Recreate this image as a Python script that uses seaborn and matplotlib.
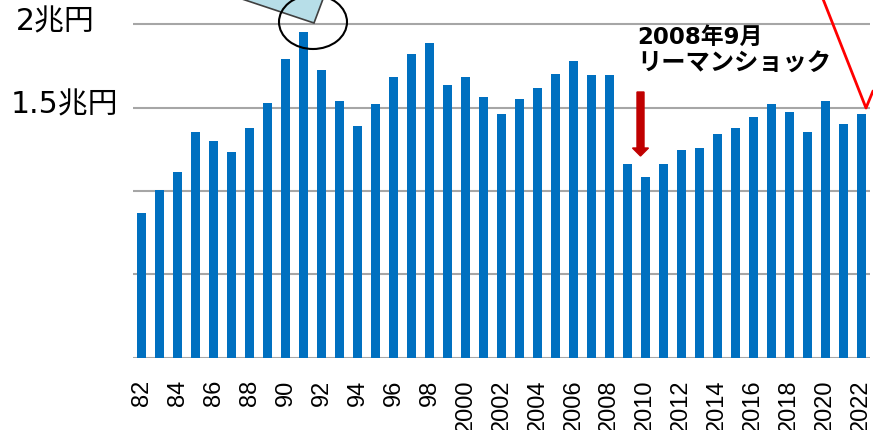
import numpy as np
import matplotlib
matplotlib.use("Agg")
import matplotlib.pyplot as plt
import matplotlib.patches as mpatches
from matplotlib.transforms import IdentityTransform
import pandas as pd
import seaborn as sns

# 年ごとの値（兆円）
years = list(range(1982, 2023))
values = [0.866, 1.006, 1.116, 1.356, 1.300, 1.234, 1.378, 1.528, 1.790, 1.954,
          1.726, 1.540, 1.388, 1.520, 1.682, 1.824, 1.890, 1.638, 1.682, 1.562,
          1.464, 1.552, 1.616, 1.704, 1.780, 1.694, 1.694, 1.160, 1.082, 1.160,
          1.246, 1.256, 1.344, 1.378, 1.444, 1.520, 1.474, 1.356, 1.540, 1.400,
          1.464]
tick_labels = [str(y)[2:] if y < 2000 else str(y) for y in years]
y_labels = ["2兆円", "1.5兆円"]
note = ["2008年9月", "リーマンショック"]

W, H = 873, 431


def main():
    sns.set_theme(style="white")
    plt.rcParams['font.family'] = ['Noto Sans CJK JP', 'DejaVu Sans']
    plt.rcParams['text.color'] = 'black'
    plt.rcParams['xtick.color'] = 'black'
    mixed = ['DejaVu Sans', 'Noto Sans CJK JP']

    df = pd.DataFrame({'year': [str(y) for y in years], 'value': values})

    fig = plt.figure(figsize=(W / 100, H / 100), dpi=100)
    ax = fig.add_axes([133 / W, (H - 358.7) / H, (870 - 133) / W, 358.7 / H])

    sns.barplot(data=df, x='year', y='value', color='#0070C0', width=0.5,
                saturation=1, linewidth=0, ax=ax)

    ax.set_xlim(-0.5, len(years) - 0.5)
    ax.set_ylim(0, 358.7 / 166.7)
    ax.set_yticks([0, 0.5, 1.0, 1.5, 2.0])
    ax.set_yticklabels([])
    ax.yaxis.grid(True, color='#A6A6A6', linewidth=1.5)
    ax.set_axisbelow(True)
    for s in ax.spines.values():
        s.set_visible(False)
    ax.set_xlabel('')
    ax.set_ylabel('')

    pos = list(range(0, len(years), 2))
    ax.set_xticks(pos)
    ax.set_xticklabels([tick_labels[i] for i in pos], rotation=90,
                       fontsize=17, family='Liberation Sans', color='black')
    ax.tick_params(axis='x', length=0, pad=15)
    ax.tick_params(axis='y', length=0)

    # 軸の左のラベル
    fig.text(95 / W, 1 - 22 / H, y_labels[0], ha='right', va='center',
             fontsize=21.5, family=mixed, color='black')
    fig.text(118 / W, 1 - 105 / H, y_labels[1], ha='right', va='center',
             fontsize=21.5, family=mixed, color='black')

    fig.text(637 / W, 1 - 37 / H, note[0], ha='left', va='center', fontsize=16.5,
             fontweight='bold', family=mixed, color='black')
    fig.text(637 / W, 1 - 64 / H, note[1], ha='left', va='center', fontsize=17.5,
             fontweight='bold', color='black')

    # 装飾（ピクセル座標）
    tr = IdentityTransform()

    def P(x, y):
        return (x, H - y)

    fig.add_artist(mpatches.Polygon([P(235, -5), P(242, 0), P(314, 24), P(323, 0), P(325, -5)],
                                    closed=True, facecolor='#B7DEE8', edgecolor='#404040',
                                    linewidth=1.2, transform=tr))
    fig.add_artist(mpatches.Ellipse(P(313, 23), 68, 54, facecolor='none',
                                    edgecolor='black', linewidth=1.5, transform=tr))
    fig.add_artist(mpatches.FancyArrow(640.5, H - 93, 0, -(157 - 93), width=7,
                                       head_width=16, head_length=8,
                                       length_includes_head=True,
                                       color='#C00000', transform=tr))
    fig.add_artist(plt.Line2D([823, 866, 873], [H - 0, H - 109, H - 92],
                              color='#FF0000', linewidth=2, transform=tr))

    fig.savefig('out.png', dpi=100)


if __name__ == "__main__":
    main()
